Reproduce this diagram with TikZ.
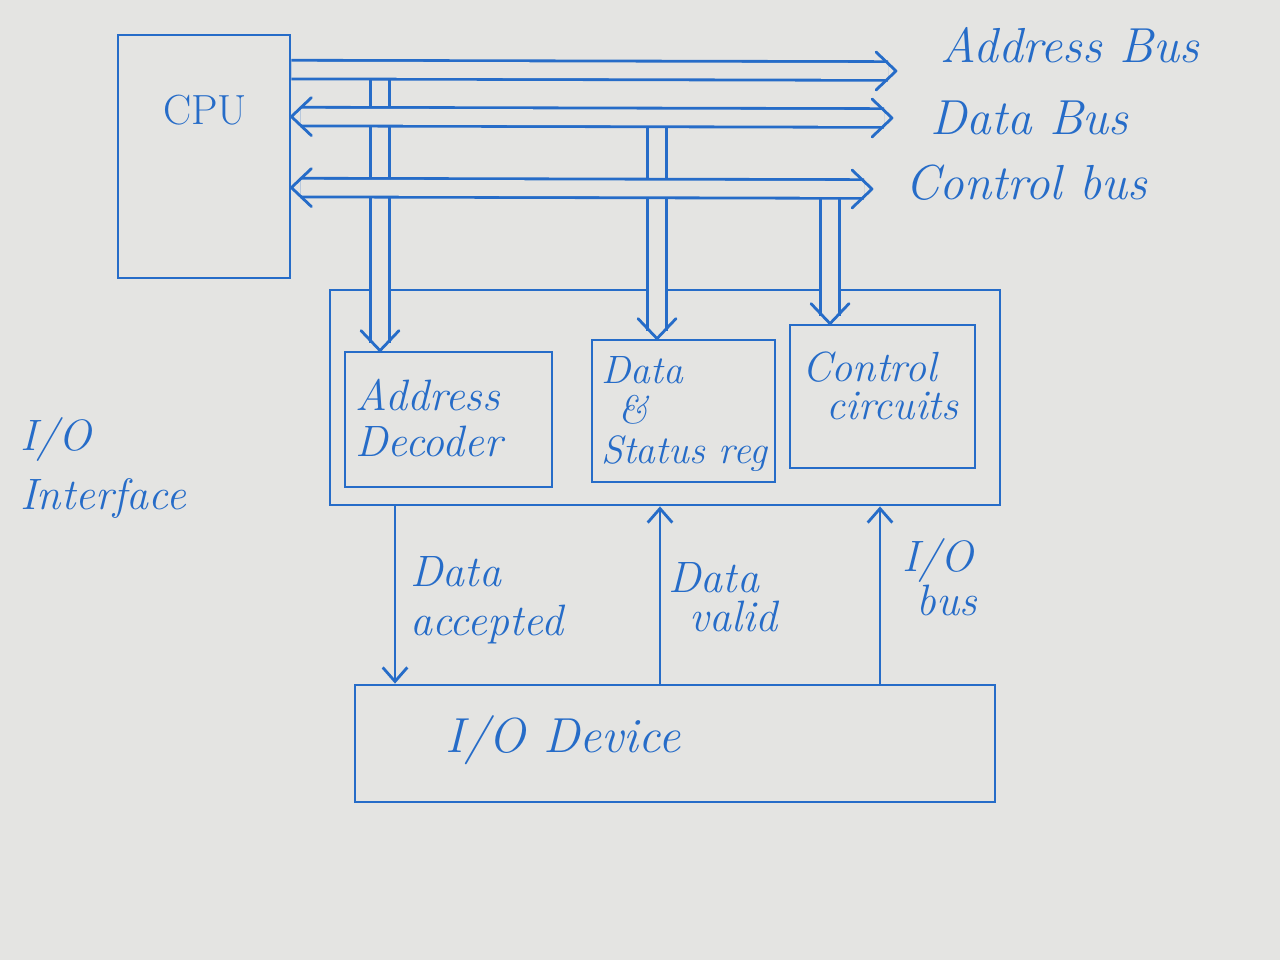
\documentclass[tikz,border=0pt]{standalone}
\usepackage{fontspec}
\usetikzlibrary{arrows.meta,fit,calc}
\definecolor{ink}{RGB}{38,108,200}
\definecolor{paper}{RGB}{228,228,226}
\pgfdeclarelayer{paperlayer}
\pgfdeclarelayer{back}
\pgfdeclarelayer{mid}
\pgfsetlayers{paperlayer,back,mid,main}
\begin{document}
\begin{tikzpicture}[x=0.02cm,y=-0.02cm,
  pen/.style={draw=ink,line width=1.6pt,line cap=round,line join=round},
  box/.style={draw=ink,line width=1.6pt,rectangle,inner sep=0pt},
  bus/.style={draw=ink,line width=1.6pt,double=paper,double distance=9pt},
  lbl/.style={text=ink,align=left,inner sep=0pt},
  buslbl/.style={text=ink,font=\fontsize{28}{30}\selectfont\itshape,inner sep=0pt},
  sig/.style={draw=ink,line width=1.6pt,-{Straight Barb[length=8pt,width=14pt,line width=1.6pt]}},
  chev/.pic={\draw[draw=ink,line width=1.6pt,line cap=round,line join=round] (-20,-19) -- (0,0) -- (-20,19);}]
\begin{pgfonlayer}{paperlayer}
\fill[paper] (0,0) rectangle (1280,960);
\end{pgfonlayer}
\useasboundingbox (0,0) rectangle (1280,960);

% boxes
\begin{pgfonlayer}{back}
\node[box,fit={(330,290)(1000,505)}] (ifc) {};
\end{pgfonlayer}
\node[box,fit={(118,35)(290,278)}] (cpu) {};
\node[box,fit={(345,352)(552,487)}] (ad) {};
\node[box,fit={(592,340)(775,482)}] (ds) {};
\node[box,fit={(790,325)(975,468)}] (cc) {};
\node[box,fit={(355,685)(995,802)}] (dev) {};

% bus coordinates
\coordinate (abL) at ($(cpu.north east)+(0,36)$);
\coordinate (abR) at (888,71);
\coordinate (dbL) at ($(cpu.north east)+(0,83)$);
\coordinate (dbR) at (884,118);
\coordinate (cbL) at ($(cpu.north east)+(0,154)$);
\coordinate (cbR) at (864,189);

\begin{pgfonlayer}{mid}
% taps (drawn first, buses cross over them)
\draw[bus] (380,71) -- ($(ad.north -| 380,0)+(0,-8)$);
\pic[rotate=-90] at (ad.north -| 380,0) {chev};
\draw[bus] (657,118) -- ($(ds.north -| 657,0)+(0,-8)$);
\pic[rotate=-90] at (ds.north -| 657,0) {chev};
\draw[bus] (830,189) -- ($(cc.north -| 830,0)+(0,-8)$);
\pic[rotate=-90] at (cc.north -| 830,0) {chev};
% buses
\draw[bus] (abL) -- (abR);
\pic at ($(abR)+(8,0)$) {chev};
\draw[bus] ($(dbL)+(9,0)$) -- (dbR);
\pic at ($(dbR)+(8,0)$) {chev};
\pic[rotate=180] at (dbL) {chev};
\draw[bus] ($(cbL)+(9,0)$) -- (cbR);
\pic at ($(cbR)+(8,0)$) {chev};
\pic[rotate=180] at (cbL) {chev};
\end{pgfonlayer}

% signals between interface and device
\draw[sig] (ifc.south -| 395,0) -- (dev.north -| 395,0);
\draw[sig] (dev.north -| 660,0) -- (ifc.south -| 660,0);
\draw[sig] (dev.north -| 880,0) -- (ifc.south -| 880,0);

% labels
\node[text=ink,font=\fontsize{24}{26}\selectfont,inner sep=0pt] (tcpu) at (205,110) {CPU};
\node[buslbl,anchor=west] (tab) at (940,45) {Address Bus};
\node[buslbl,anchor=west] (tdb) at (930,118) {Data Bus};
\node[buslbl,anchor=west] (tcb) at (905,183) {Control bus};
\node[lbl,anchor=west,font=\fontsize{25}{34}\selectfont\itshape] (tifc) at (20,468) {I/O\\Interface};
\node[lbl,anchor=west,font=\fontsize{25}{26}\selectfont\itshape] (tad) at (355,418) {Address\\Decoder};
\node[lbl,anchor=west,font=\fontsize{22.5}{23}\selectfont\itshape] (tds) at (601,414) {Data\\\hspace*{10pt}\&\\Status reg};
\node[lbl,anchor=west,font=\fontsize{24}{22}\selectfont\itshape] (tcc) at (802,386) {Control\\\hspace*{14pt}circuits};
\node[lbl,anchor=west,font=\fontsize{25}{28}\selectfont\itshape] (tda) at (410,600) {Data\\accepted};
\node[lbl,anchor=west,font=\fontsize{25}{22}\selectfont\itshape] (tdv) at (668,597) {Data\\\hspace*{12pt}valid};
\node[lbl,anchor=west,font=\fontsize{25}{25}\selectfont\itshape] (tio) at (902,577) {I/O\\\hspace*{8pt}bus};
\node[lbl,font=\fontsize{28}{30}\selectfont\itshape] (tdev) at (563,740) {I/O Device};
\end{tikzpicture}
\end{document}
